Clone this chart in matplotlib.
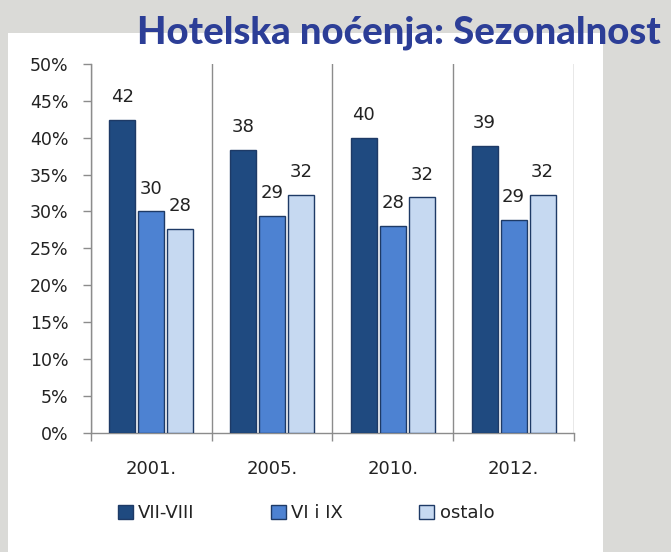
#---Hotel overnight stays by season (bar chart)-----------------------------------------------
import matplotlib
matplotlib.use("Agg")
import matplotlib.pyplot as plt
import matplotlib.patches as mpatches
from matplotlib import font_manager
import numpy as np

#---Data------------------------------------------------------------------------------------
years = ["2001.", "2005.", "2010.", "2012."]
series_names = ["VII-VIII", "VI i IX", "ostalo"]
vii_viii = [42.4, 38.4, 40.0, 38.9]
vi_ix = [30.0, 29.4, 28.0, 28.9]
ostalo = [27.6, 32.2, 31.9, 32.2]
yticks = [0, 5, 10, 15, 20, 25, 30, 35, 40, 45, 50]

#---Fonts-----------------------------------------------------------------------------------
names = {f.name for f in font_manager.fontManager.ttflist}
body = 'Liberation Sans Narrow' if 'Liberation Sans Narrow' in names else 'DejaVu Sans'
plt.rcParams['font.family'] = [body, 'DejaVu Sans']

cols = ['#1F4A80', '#4D82D2', '#C6D9F1']
edge = '#1E3A66'
grid_c = '#8C8C8C'
txt_c = '#222222'

fg = plt.figure(figsize=(6.71, 5.52), dpi=100)
fg.patch.set_facecolor('#DADAD7')

# white chart panel
fg.patches.append(mpatches.Rectangle((8/671, 0), (603-8)/671, (552-33)/552,
                                     transform=fg.transFigure, facecolor='white',
                                     edgecolor='none', zorder=-10))

ax = fg.add_axes([90.7/671, 1-432.7/552, (574-90.7)/671, (432.7-64)/552])
ax.set_facecolor('none')

x = np.arange(len(years)) + 0.5
w = 0.215
step = 0.24
for i, vals in enumerate([vii_viii, vi_ix, ostalo]):
    b = ax.bar(x + (i-1)*step, vals, w, color=cols[i], edgecolor=edge,
               linewidth=1.0, label=series_names[i], zorder=3)
    ax.bar_label(b, labels=[f"{v:.0f}" for v in vals], padding=10,
                 fontsize=13, color=txt_c)

ax.set_xlim(0, len(years))
ax.set_ylim(0, 50)
ax.set_yticks(yticks)
ax.set_yticklabels([f"{t}%" for t in yticks], fontsize=12.5, color=txt_c)
ax.set_xticks(np.arange(len(years)+1))
ax.set_xticklabels([])
ax.set_xticks(x, minor=True)
ax.set_xticklabels(years, minor=True, fontsize=13, color=txt_c)
ax.tick_params(axis='x', which='major', length=6, width=1, color=grid_c, direction='out')
ax.tick_params(axis='x', which='minor', length=0, pad=20)
ax.tick_params(axis='y', length=6, width=1, color=grid_c, pad=10)
ax.xaxis.grid(True, which='major', color=grid_c, linewidth=1, zorder=1)
ax.set_axisbelow(True)

for s in ['top', 'right']:
    ax.spines[s].set_visible(False)
for s in ['left', 'bottom']:
    ax.spines[s].set_color(grid_c)
    ax.spines[s].set_linewidth(1)

leg = fg.legend(loc='center', bbox_to_anchor=(306/671, 1-513/552), ncol=3,
                frameon=False, fontsize=13, handlelength=0.85, handleheight=0.85,
                handletextpad=0.3, columnspacing=4.2)
for t in leg.get_texts():
    t.set_color(txt_c)

fg.text(661/671, 1-44/552, 'Hotelska noćenja: Sezonalnost', ha='right', va='baseline',
        fontsize=27.5, fontweight='black', color='#2C3E97', family=['Lato', 'DejaVu Sans'])

plt.savefig('out.png', dpi=100, facecolor=fg.get_facecolor())
